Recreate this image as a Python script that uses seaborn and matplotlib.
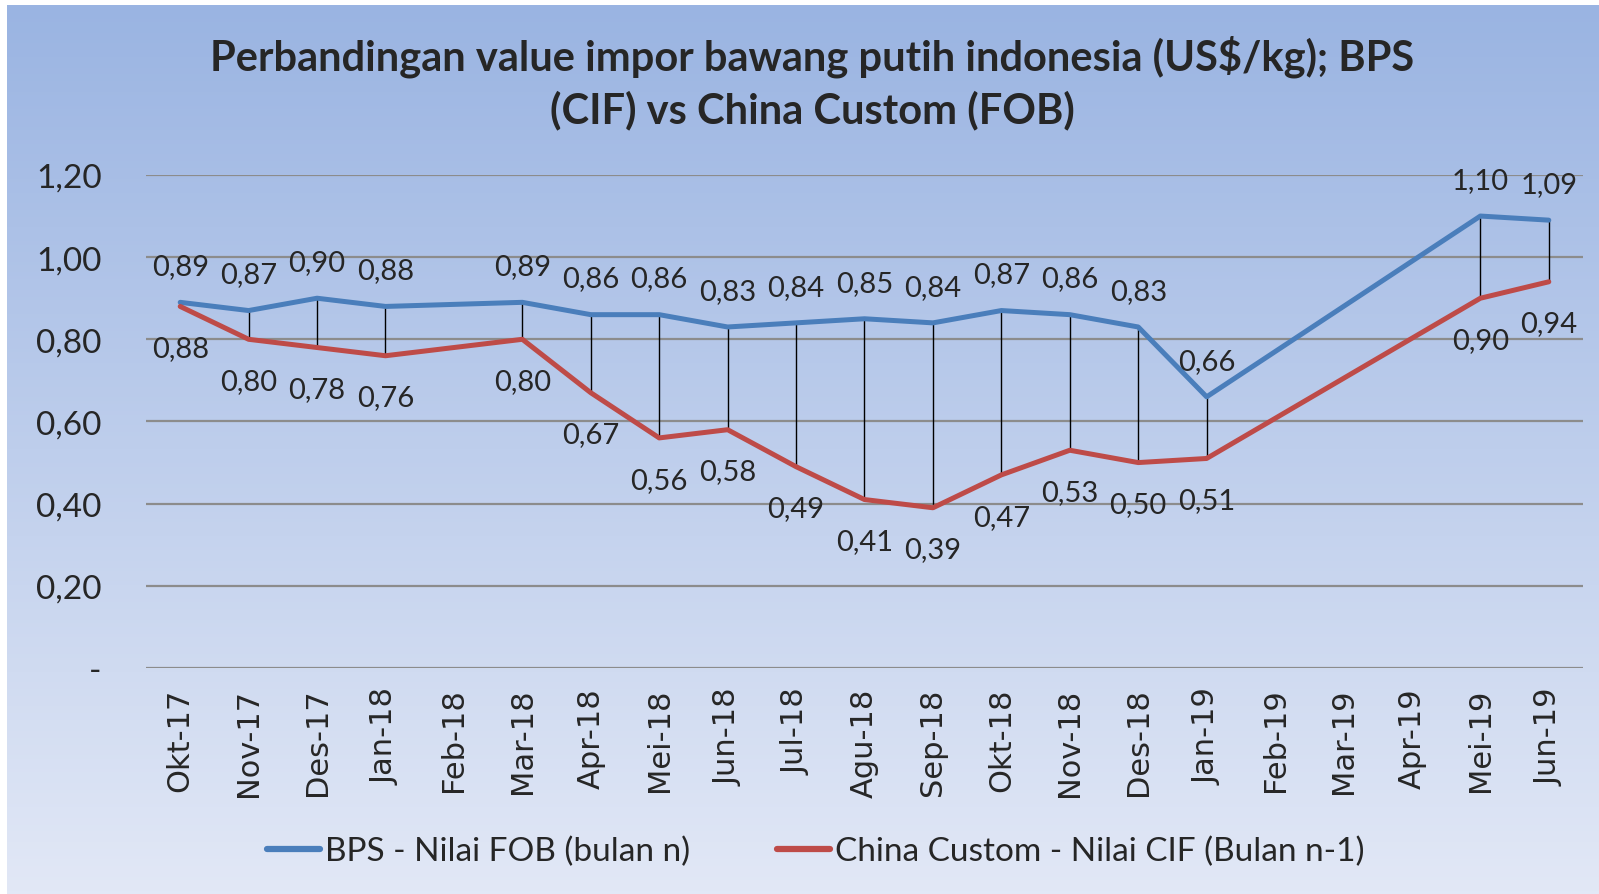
import numpy as np
import pandas as pd
import matplotlib
matplotlib.use("Agg")
import matplotlib.pyplot as plt
import seaborn as sns

# Data
months = ["Okt-17", "Nov-17", "Des-17", "Jan-18", "Feb-18", "Mar-18", "Apr-18",
          "Mei-18", "Jun-18", "Jul-18", "Agu-18", "Sep-18", "Okt-18", "Nov-18",
          "Des-18", "Jan-19", "Feb-19", "Mar-19", "Apr-19", "Mei-19", "Jun-19"]
bps_fob = [0.89, 0.87, 0.90, 0.88, np.nan, 0.89, 0.86, 0.86, 0.83, 0.84, 0.85,
           0.84, 0.87, 0.86, 0.83, 0.66, np.nan, np.nan, np.nan, 1.10, 1.09]
china_cif = [0.88, 0.80, 0.78, 0.76, np.nan, 0.80, 0.67, 0.56, 0.58, 0.49, 0.41,
             0.39, 0.47, 0.53, 0.50, 0.51, np.nan, np.nan, np.nan, 0.90, 0.94]
series_names = ["BPS - Nilai FOB (bulan n)", "China Custom - Nilai CIF (Bulan n-1)"]
y_ticks = [0.0, 0.2, 0.4, 0.6, 0.8, 1.0, 1.2]
y_tick_labels = ["-", "0,20", "0,40", "0,60", "0,80", "1,00", "1,20"]

blue = "#4A7EBB"
red = "#BE4B48"

sns.set_style("white")
plt.rcParams["font.family"] = ["Lato", "DejaVu Sans"]

pos = np.arange(len(months))
df = pd.DataFrame({
    "pos": np.concatenate([pos, pos]),
    "value": bps_fob + china_cif,
    "series": [series_names[0]] * len(months) + [series_names[1]] * len(months),
}).dropna()

fig = plt.figure(figsize=(15.99, 8.95), dpi=100)

# gradient background
bg = fig.add_axes([7 / 1599, 0, 1 - 7 / 1599, 1 - 6 / 895])
top = np.array([154, 180, 226]) / 255
bottom = np.array([226, 232, 246]) / 255
t = np.linspace(0, 1, 256)[:, None]
grad = top[None, :] * (1 - t) + bottom[None, :] * t
bg.imshow(grad[:, None, :], aspect="auto", extent=[0, 1, 0, 1])
bg.set_axis_off()

ax = fig.add_axes([0.0913, 0.2525, 0.8987, 0.5509])
ax.set_facecolor("none")

sns.lineplot(data=df, x="pos", y="value", hue="series", palette=[blue, red],
             linewidth=3.6, ax=ax, legend=False, sort=True)

# high-low lines
both = [i for i in pos if not np.isnan(bps_fob[i]) and not np.isnan(china_cif[i])]
ax.vlines(both, [china_cif[i] for i in both], [bps_fob[i] for i in both],
          color="black", linewidth=1, zorder=1)

# data labels
for i in pos:
    if not np.isnan(bps_fob[i]):
        ax.annotate(f"{bps_fob[i]:.2f}".replace(".", ","), (i, bps_fob[i]),
                    xytext=(0, 26), textcoords="offset points",
                    ha="center", va="center", fontsize=21)
    if not np.isnan(china_cif[i]):
        ax.annotate(f"{china_cif[i]:.2f}".replace(".", ","), (i, china_cif[i]),
                    xytext=(0, -30), textcoords="offset points",
                    ha="center", va="center", fontsize=21)

ax.set_xlim(-0.5, len(months) - 0.5)
ax.set_ylim(0, 1.2)
ax.set_yticks(y_ticks)
ax.set_yticklabels(y_tick_labels, fontsize=24)
ax.set_xticks(pos)
ax.set_xticklabels(months, rotation=90, fontsize=22, family="DejaVu Sans")
ax.tick_params(axis="both", length=0)
ax.tick_params(axis="x", pad=14)
ax.tick_params(axis="y", pad=32)
ax.grid(axis="y", color="#8C8C8C", linewidth=1.6)
ax.set_axisbelow(True)
for s in ax.spines.values():
    s.set_visible(False)
ax.set_xlabel("")
ax.set_ylabel("")

fig.text(0.508, 0.937, "Perbandingan value impor bawang putih indonesia (US$/kg); BPS",
         ha="center", va="center", fontsize=30, fontweight="bold")
fig.text(0.508, 0.877, "(CIF) vs China Custom (FOB)",
         ha="center", va="center", fontsize=30, fontweight="bold")

handles = [plt.Line2D([], [], color=blue, linewidth=4.5),
           plt.Line2D([], [], color=red, linewidth=4.5)]
fig.legend(handles, series_names, loc="center", bbox_to_anchor=(0.51, 0.048),
           ncol=2, frameon=False, fontsize=24, handlelength=1.6,
           handletextpad=0.15, columnspacing=2.6)

fig.savefig("out.png", dpi=100)
